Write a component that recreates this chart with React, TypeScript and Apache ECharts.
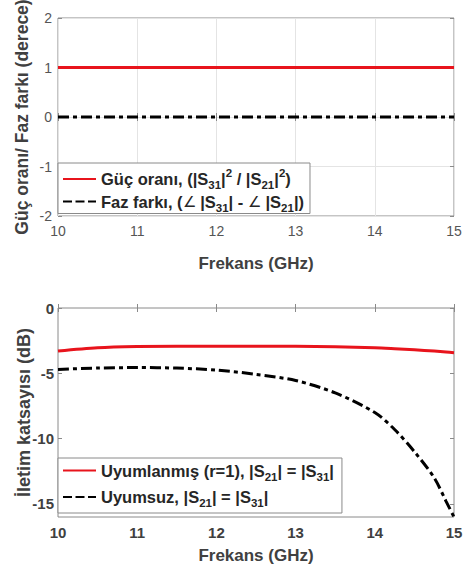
import React, { useEffect, useRef } from "react";
import * as echarts from "echarts";

// Top panel
const topFreq = [10, 11, 12, 13, 14, 15];
const powerRatio = [1, 1, 1, 1, 1, 1];
const phaseDiff = [0, 0, 0, 0, 0, 0];

// Bottom panel
const freq = [10, 10.5, 11, 11.5, 12, 12.5, 13, 13.5, 14, 14.25, 14.5, 14.75, 14.9, 15];
const matched = [-3.3, -3.05, -2.95, -2.92, -2.92, -2.92, -2.93, -2.97, -3.05, -3.12, -3.2, -3.3, -3.37, -3.42];
const unmatched = [-4.7, -4.6, -4.56, -4.6, -4.75, -5.08, -5.55, -6.5, -8.0, -9.3, -11.0, -13.0, -14.8, -16.0];

const xTicks = [10, 11, 12, 13, 14, 15];
const topYTicks = [-2, -1, 0, 1, 2];
const bottomYTicks = [0, -5, -10, -15];

const FONT = 'Arial, "Liberation Sans", sans-serif';
const TXT = "#404040";
const FRAME = "#8a8a8a";
const RED = "#e8141c";

const pairs = (xs: number[], ys: number[]) => xs.map((x, i) => [x, ys[i]]);

const legendLabels: Record<string, string> = {
  ratio: "{m|Güç oranı, (|S}{sub|31}{m||}{sup|2}{m| / |S}{sub|21}{m||}{sup|2}{m|)}",
  phase: "{m|Faz farkı, (}{a|∠}{m| |S}{sub|31}{m|| - }{a|∠}{m| |S}{sub|21}{m||)}",
  matched: "{m|Uyumlanmış (r=1), |S}{sub|21}{m|| = |S}{sub|31}{m||}",
  unmatched: "{m|Uyumsuz, |S}{sub|21}{m|| = |S}{sub|31}{m||}",
};

const LH = 18;
const rich = {
  m: { fontFamily: FONT, fontSize: 16.5, fontWeight: "bold", color: "#262626", lineHeight: LH, verticalAlign: "middle" },
  a: { fontFamily: FONT, fontSize: 15, fontWeight: "normal", color: "#262626", lineHeight: LH, verticalAlign: "middle" },
  sub: { fontFamily: FONT, fontSize: 11.5, fontWeight: "bold", color: "#262626", lineHeight: LH + 6, verticalAlign: "bottom" },
  sup: { fontFamily: FONT, fontSize: 11.5, fontWeight: "bold", color: "#262626", lineHeight: LH, verticalAlign: "top" },
};

export default function App() {
  const ref = useRef<HTMLDivElement>(null);
  useEffect(() => {
    if (!ref.current) return;
    const chart = echarts.init(ref.current, undefined, { renderer: "svg" });
    const xBase = (grid: number, bold: boolean, split: boolean, nameGap: number, fs: number) => ({
      type: "value",
      gridIndex: grid,
      min: 10,
      max: 15,
      interval: 1,
      position: "bottom",
      axisLine: { show: false },
      axisTick: { show: true, inside: true, length: 4, lineStyle: { color: FRAME } },
      axisLabel: {
        margin: 8,
        fontFamily: FONT,
        fontSize: fs,
        fontWeight: bold ? "bold" : "normal",
        color: bold ? TXT : "#555",
        customValues: xTicks,
      },
      splitLine: { show: split, lineStyle: { color: "#e4e4e4", width: 1 } },
      name: "Frekans (GHz)",
      nameLocation: "middle",
      nameGap,
      nameMoveOverlap: false,
      nameTextStyle: { fontFamily: FONT, fontSize: 17, fontWeight: "bold", color: TXT },
    });
    const xTop = (grid: number) => ({
      type: "value",
      gridIndex: grid,
      min: 10,
      max: 15,
      interval: 1,
      position: "top",
      axisLine: { show: false },
      axisTick: { show: true, inside: true, length: 4, lineStyle: { color: FRAME } },
      axisLabel: { show: false },
      splitLine: { show: false },
    });
    const legendBase = {
      orient: "vertical",
      left: 58,
      itemWidth: 33,
      itemHeight: 12,
      backgroundColor: "#fff",
      borderColor: FRAME,
      borderWidth: 1,
      borderRadius: 0,
      itemStyle: { opacity: 0 },
      formatter: (n: string) => legendLabels[n],
      textStyle: { rich },
    };
    const option = {
      animation: false,
      grid: [
        {
          left: 58, top: 18, width: 396, height: 198, show: true, borderColor: FRAME, borderWidth: 1,
          backgroundColor: "#fff", containLabel: false, outerBoundsMode: "none",
        },
        {
          left: 58, top: 308, width: 396, height: 209, show: true, borderColor: FRAME, borderWidth: 1,
          backgroundColor: "#fff", containLabel: false, outerBoundsMode: "none",
        },
      ],
      xAxis: [xBase(0, false, true, 39, 14), xTop(0), xBase(1, true, false, 30, 15), xTop(1)],
      yAxis: [
        {
          type: "value",
          gridIndex: 0,
          min: -2,
          max: 2,
          interval: 1,
          position: "left",
          axisLine: { show: false },
          axisTick: { show: true, inside: true, length: 4, lineStyle: { color: FRAME } },
          axisLabel: { margin: 6, fontFamily: FONT, fontSize: 14, color: "#555", customValues: topYTicks },
          splitLine: { show: true, lineStyle: { color: "#e4e4e4" } },
          name: "Güç oranı/ Faz farkı (derece)",
          nameLocation: "middle",
          nameGap: 27,
          nameMoveOverlap: false,
          nameTextStyle: { fontFamily: FONT, fontSize: 17.5, fontWeight: "bold", color: TXT },
        },
        {
          type: "value",
          gridIndex: 0,
          min: -2,
          max: 2,
          interval: 1,
          position: "right",
          axisLine: { show: false },
          axisTick: { show: true, inside: true, length: 4, lineStyle: { color: FRAME } },
          axisLabel: { show: false },
          splitLine: { show: false },
        },
        {
          type: "value",
          gridIndex: 1,
          min: -16,
          max: 0,
          interval: 1,
          position: "left",
          axisLine: { show: false },
          axisTick: { show: true, inside: true, length: 4, lineStyle: { color: FRAME }, customValues: bottomYTicks },
          axisLabel: { margin: 4, fontFamily: FONT, fontSize: 15, fontWeight: "bold", color: TXT, customValues: bottomYTicks },
          splitLine: { show: false },
          name: "İletim katsayısı (dB)",
          nameLocation: "middle",
          nameGap: 25,
          nameMoveOverlap: false,
          nameTextStyle: { fontFamily: FONT, fontSize: 18, fontWeight: "bold", color: TXT },
        },
        {
          type: "value",
          gridIndex: 1,
          min: -16,
          max: 0,
          interval: 1,
          position: "right",
          axisLine: { show: false },
          axisTick: { show: true, inside: true, length: 4, lineStyle: { color: FRAME }, customValues: bottomYTicks },
          axisLabel: { show: false },
          splitLine: { show: false },
        },
      ],
      legend: [
        {
          ...legendBase,
          data: ["ratio", { name: "phase", lineStyle: { type: [9, 3.5] } }],
          top: 163,
          itemGap: 2,
          padding: [4, 6, 0, 4],
        },
        {
          ...legendBase,
          data: ["matched", { name: "unmatched", lineStyle: { type: [9, 3.5] } }],
          top: 458,
          itemGap: 6,
          padding: [4, 8, 4, 4],
        },
      ],
      series: [
        {
          name: "ratio",
          type: "line",
          xAxisIndex: 0,
          yAxisIndex: 0,
          data: pairs(topFreq, powerRatio),
          symbol: "none",
          lineStyle: { color: RED, width: 3 },
          itemStyle: { color: RED },
        },
        {
          name: "phase",
          type: "line",
          xAxisIndex: 0,
          yAxisIndex: 0,
          data: pairs(topFreq, phaseDiff),
          symbol: "none",
          lineStyle: { color: "#000", width: 3, type: [11, 4, 4, 4] },
          itemStyle: { color: "#000" },
        },
        {
          name: "matched",
          type: "line",
          xAxisIndex: 2,
          yAxisIndex: 2,
          data: pairs(freq, matched),
          symbol: "none",
          smooth: 0.3,
          lineStyle: { color: RED, width: 3 },
          itemStyle: { color: RED },
        },
        {
          name: "unmatched",
          type: "line",
          xAxisIndex: 2,
          yAxisIndex: 2,
          data: pairs(freq, unmatched),
          symbol: "none",
          smooth: 0.3,
          lineStyle: { color: "#000", width: 3, type: [11, 4, 4, 4] },
          itemStyle: { color: "#000" },
        },
      ],
    };
    chart.setOption(option as any);
    return () => chart.dispose();
  }, []);
  return (
    <div
      ref={ref}
      style={{ position: "fixed", left: 0, top: 0, width: 465, height: 566, background: "#fff" }}
    />
  );
}
